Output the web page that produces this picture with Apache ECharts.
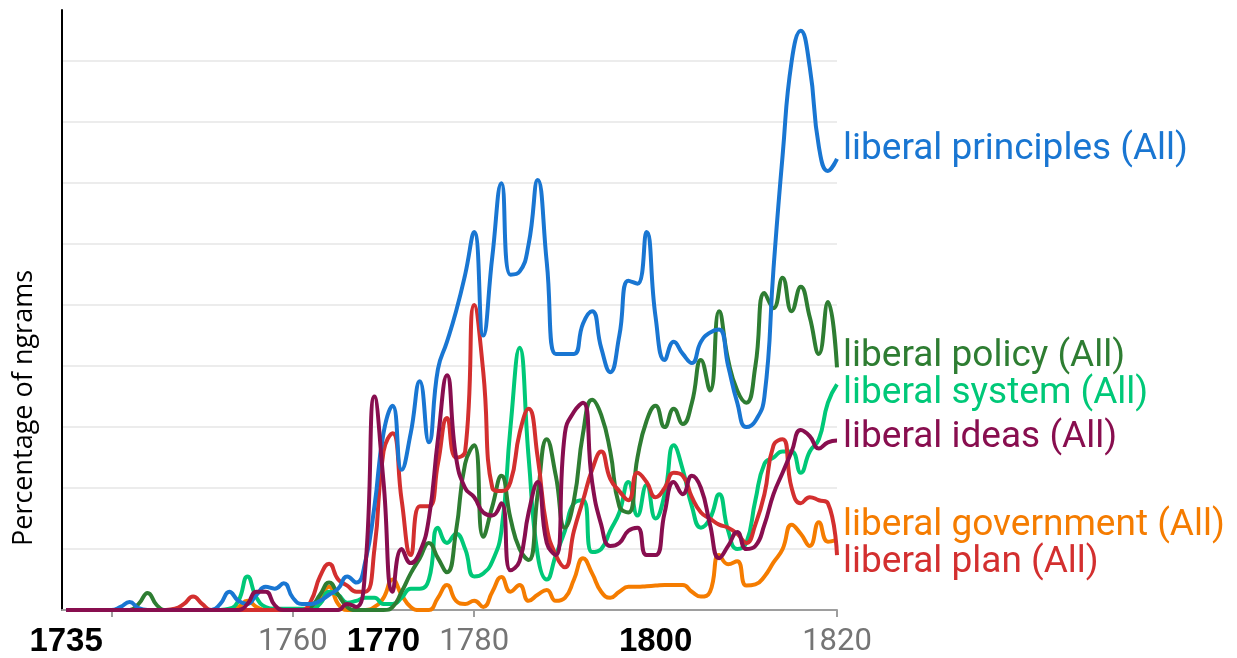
<!DOCTYPE html>
<html>
<head>
<meta charset="utf-8">
<script src="https://cdn.jsdelivr.net/npm/echarts@6/dist/echarts.min.js"></script>
<style>
  html, body { margin: 0; padding: 0; background: #fff; }
  #chart { width: 1237px; height: 658px; }
</style>
</head>
<body>
<div id="chart"></div>
<script>
// one value per year, 1735..1820
const firstYear = 1735;

const principles = [
  0, 0, 0, 0, 0, 0, 0.05, 0.13, 0.03, 0,
  0, 0, 0, 0, 0, 0, 0, 0.1, 0.3, 0.15,
  0.1, 0.25, 0.38, 0.35, 0.44, 0.2, 0.1, 0.1, 0.15, 0.25,
  0.35, 0.55, 0.45, 0.8, 1.7, 2.9, 3.35, 2.3, 2.9, 3.75,
  2.75, 3.95, 4.4, 4.9, 5.5, 6.2, 4.5, 5.8, 7.0, 5.5,
  5.55, 6.0, 7.05, 5.7, 4.2, 4.2, 4.2, 4.7, 4.9, 4.3,
  3.9, 4.5, 5.4, 5.35, 6.2, 4.8, 4.1, 4.4, 4.2, 4.05,
  4.4, 4.55, 4.6, 4.0, 3.4, 3.0, 3.1, 3.5, 5.6, 7.45,
  9.0, 9.5, 8.9, 7.6, 7.2, 7.4
];

const policy = [
  0, 0, 0, 0, 0, 0, 0, 0, 0.1, 0.28,
  0.08, 0, 0, 0, 0, 0, 0, 0, 0, 0,
  0, 0, 0, 0, 0, 0, 0, 0.05, 0.25, 0.45,
  0.25, 0.05, 0, 0, 0, 0, 0.05, 0.3, 0.6, 0.85,
  1.1, 0.85, 0.62, 1.3, 2.4, 2.7, 1.2, 1.7, 2.2, 1.5,
  1.0, 0.82, 1.9, 2.8, 2.2, 1.35, 1.8, 2.9, 3.45, 3.2,
  2.6, 1.7, 1.6, 2.5, 3.1, 3.35, 3.0, 3.3, 3.05, 3.4,
  4.1, 3.6, 4.9, 4.1, 3.6, 3.4, 4.0, 5.2, 4.95, 5.45,
  4.9, 5.3, 4.8, 4.2, 5.05, 3.98
];

const system = [
  0, 0, 0, 0, 0, 0, 0, 0, 0, 0,
  0, 0, 0, 0, 0, 0, 0, 0, 0.02, 0.15,
  0.55, 0.2, 0.05, 0.02, 0.02, 0.02, 0.02, 0.02, 0.1, 0.3,
  0.25, 0.12, 0.15, 0.2, 0.2, 0.1, 0.1, 0.2, 0.35, 0.35,
  0.5, 1.35, 1.1, 1.25, 1.0, 0.55, 0.6, 0.8, 1.3, 3.0,
  4.3, 2.5, 0.9, 0.5, 0.9, 1.3, 1.75, 1.8, 0.95, 1.0,
  1.3, 1.6, 2.1, 1.55, 2.05, 1.5, 1.9, 2.7, 2.3, 1.7,
  1.35, 1.5, 1.9, 1.3, 1.0, 1.1, 1.8, 2.4, 2.5, 2.6,
  2.6, 2.25, 2.6, 2.8, 3.4, 3.7
];

const ideas = [
  0, 0, 0, 0, 0, 0, 0, 0, 0, 0,
  0, 0, 0, 0, 0, 0, 0, 0, 0, 0,
  0.1, 0.3, 0.3, 0.08, 0, 0, 0, 0, 0, 0,
  0, 0.1, 0.05, 0.7, 3.5, 2.1, 0.3, 1.0, 0.77, 0.95,
  1.5, 2.8, 3.85, 2.5, 2.0, 1.85, 1.6, 1.55, 1.75, 0.65,
  0.8, 1.6, 2.1, 1.1, 0.9, 2.9, 3.25, 3.4, 2.1, 1.4,
  1.05, 1.1, 1.3, 1.35, 0.9, 0.9, 1.6, 2.1, 1.9, 2.2,
  2.0, 1.4, 0.85, 1.05, 1.28, 1.0, 1.05, 1.4, 1.9, 2.25,
  2.6, 2.95, 2.85, 2.65, 2.75, 2.78
];

const government = [
  0, 0, 0, 0, 0, 0, 0, 0, 0, 0,
  0, 0, 0, 0, 0, 0, 0, 0, 0, 0.05,
  0.15, 0.05, 0, 0, 0, 0, 0, 0, 0.2, 0.38,
  0.1, 0, 0, 0, 0.05, 0.2, 0.5, 0.25, 0.05, 0,
  0, 0.2, 0.41, 0.15, 0.1, 0.15, 0.05, 0.3, 0.54, 0.3,
  0.41, 0.15, 0.25, 0.33, 0.15, 0.2, 0.5, 0.85, 0.6, 0.3,
  0.2, 0.3, 0.38, 0.38, 0.39, 0.4, 0.41, 0.41, 0.41, 0.3,
  0.22, 0.3, 0.9, 0.75, 0.8, 0.4, 0.42, 0.55, 0.78, 1.0,
  1.4, 1.25, 1.05, 1.44, 1.12, 1.15
];

const plan = [
  0, 0, 0, 0, 0, 0, 0, 0, 0, 0,
  0, 0, 0.02, 0.1, 0.22, 0.1, 0, 0, 0, 0,
  0, 0, 0, 0, 0, 0, 0, 0.15, 0.55, 0.76,
  0.5, 0.4, 0.3, 0.3, 1.0, 2.6, 2.9, 1.8, 0.9, 1.7,
  1.7, 2.4, 3.15, 2.5, 2.6, 5.0, 3.9, 2.0, 1.95, 2.1,
  2.9, 3.3, 2.5, 1.35, 0.9, 0.7, 1.3, 1.8, 2.3, 2.6,
  2.15, 1.95, 1.8, 2.25, 2.1, 1.85, 2.0, 2.25, 2.2, 1.85,
  1.6, 1.5, 1.4, 1.35, 1.25, 1.1, 1.4, 1.9, 2.7, 2.8,
  2.0, 1.75, 1.85, 1.8, 1.75, 0.9
];

const labelYears = [1735, 1760, 1770, 1780, 1800, 1820];
const boldYears = [1735, 1770, 1800];
const tickYears = [1740, 1760, 1780, 1820];

// drawing order, label colour and label shift
const lines = [
  { name: "liberal government (All)", data: government, color: "#f57c00", dy: -14 },
  { name: "liberal system (All)", data: system, color: "#00c878", dy: 9 },
  { name: "liberal policy (All)", data: policy, color: "#2e7d32", dy: -11 },
  { name: "liberal plan (All)", data: plan, color: "#d32f2f", dy: 8 },
  { name: "liberal principles (All)", data: principles, color: "#1976d2", dy: -9 },
  { name: "liberal ideas (All)", data: ideas, color: "#880e4f", dy: -3 },
];

var chartDom = document.getElementById("chart");
var myChart = echarts.init(chartDom, null, { renderer: "canvas" });
var option;

option = {
  animation: false,
  grid: { left: 62, right: 400, top: 10, bottom: 48, outerBoundsMode: "none" },
  xAxis: {
    type: "value",
    min: 1734.55,
    max: 1820,
    splitLine: { show: false },
    axisLine: { lineStyle: { color: "#9e9e9e", width: 2 } },
    axisTick: {
      customValues: tickYears,
      length: 7,
      lineStyle: { color: "#9e9e9e", width: 2 },
    },
    axisLabel: {
      customValues: labelYears,
      margin: 17,
      formatter: (v) => (boldYears.includes(v) ? "{b|" + v + "}" : "{g|" + v + "}"),
      rich: {
        b: {
          fontFamily: "Liberation Sans",
          fontWeight: "bold",
          fontSize: 33,
          color: "#000",
          lineHeight: 30,
        },
        g: {
          fontFamily: "Roboto",
          fontSize: 31,
          color: "#757575",
          lineHeight: 30,
        },
      },
    },
  },
  yAxis: {
    type: "value",
    min: 0,
    max: 9.84,
    interval: 1,
    name: "Percentage of ngrams",
    nameLocation: "middle",
    nameRotate: 90,
    nameGap: 24,
    nameTextStyle: {
      fontFamily: "Open Sans",
      fontSize: 27,
      color: "#000",
      padding: [0, 196, 0, 0],
    },
    axisLine: { show: true, lineStyle: { color: "#000", width: 2 } },
    axisTick: { show: false },
    axisLabel: { show: false },
    splitLine: {
      showMinLine: false,
      showMaxLine: false,
      lineStyle: { color: "#ececec", width: 2 },
    },
  },
  series: lines.map((s) => ({
    name: s.name,
    type: "line",
    data: s.data.map((v, i) => [firstYear + i, v]),
    smooth: 0.5,
    showSymbol: false,
    color: s.color,
    lineStyle: { width: 4, color: s.color },
    endLabel: {
      show: true,
      formatter: "{a}",
      color: s.color,
      fontFamily: "Roboto",
      fontSize: 37,
      distance: 6,
      offset: [0, s.dy],
    },
  })),
};

option && myChart.setOption(option);
</script>
</body>
</html>
